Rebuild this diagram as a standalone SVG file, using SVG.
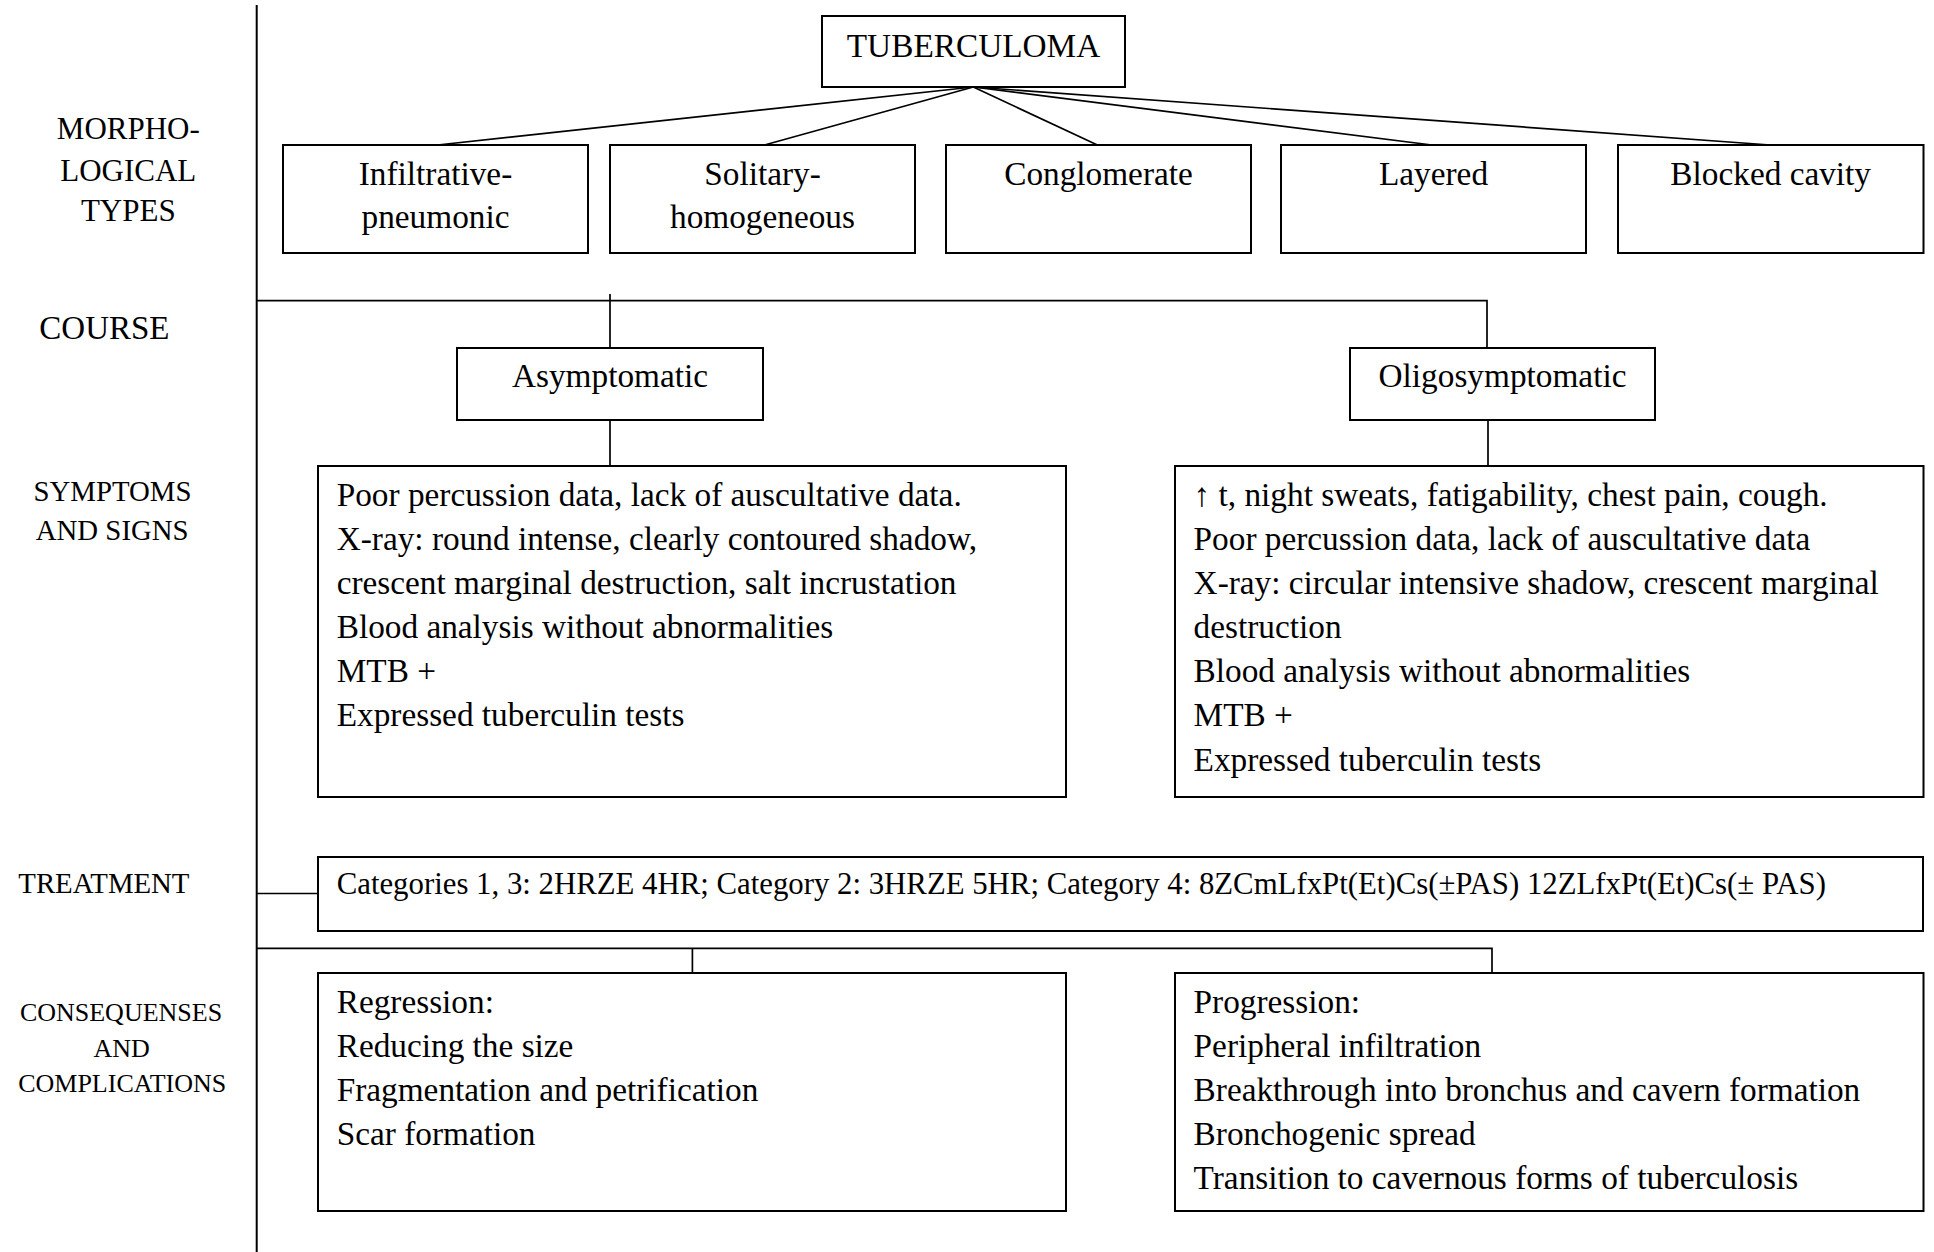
<svg xmlns="http://www.w3.org/2000/svg" width="1934" height="1252" viewBox="0 0 1934 1252">
  <style>
    .box { fill: #ffffff; stroke: #000000; stroke-width: 2; }
    .wire { fill: none; stroke: #000000; stroke-width: 1.7; }
    .axis { fill: none; stroke: #000000; stroke-width: 2; }
    text { font-family: "Liberation Serif", "Times New Roman", serif; fill: #000000; }
    .t { font-size: 33.3px; }
    .c { text-anchor: middle; }
    .rx { font-size: 30.8px; }
    .lab31 { font-size: 31px; text-anchor: middle; }
    .lab33 { font-size: 33px; }
    .lab29 { font-size: 28.8px; }
    .lab26 { font-size: 26px; text-anchor: middle; }
  </style>

  <rect x="0" y="0" width="1934" height="1252" fill="#ffffff"/>

  <!-- row labels on the left -->
  <g id="row-labels">
    <text class="lab31" x="128.3" y="139.3">MORPHO-</text>
    <text class="lab31" x="128.3" y="180.7">LOGICAL</text>
    <text class="lab31" x="128.3" y="220.7">TYPES</text>
    <text class="lab33" x="39.3" y="339.3">COURSE</text>
    <text class="lab29" x="112.5" y="500.7" text-anchor="middle">SYMPTOMS</text>
    <text class="lab29" x="112.2" y="540" text-anchor="middle">AND SIGNS</text>
    <text class="lab29" x="18.3" y="893.3">TREATMENT</text>
    <text class="lab26" x="121" y="1020.7">CONSEQUENSES</text>
    <text class="lab26" x="121.7" y="1056.7">AND</text>
    <text class="lab26" x="122.2" y="1091.7">COMPLICATIONS</text>
  </g>

  <!-- connectors -->
  <g id="connectors">
    <line class="axis" x1="256.7" y1="5" x2="256.7" y2="1252"/>
    <!-- fan from the root -->
    <line class="wire" x1="973.3" y1="87" x2="437.5" y2="145"/>
    <line class="wire" x1="973.3" y1="87" x2="764.5" y2="145"/>
    <line class="wire" x1="973.3" y1="87" x2="1097.4" y2="145"/>
    <line class="wire" x1="973.3" y1="87" x2="1431.9" y2="145"/>
    <line class="wire" x1="973.3" y1="87" x2="1770.3" y2="145"/>
    <!-- course bracket -->
    <polyline class="wire" points="256.7,300.7 1487,300.7 1487,348"/>
    <line class="wire" x1="610" y1="294" x2="610" y2="348"/>
    <line class="wire" x1="610" y1="420" x2="610" y2="466"/>
    <line class="wire" x1="1488" y1="420" x2="1488" y2="466"/>
    <!-- treatment link -->
    <line class="wire" x1="256.7" y1="893.5" x2="318" y2="893.5"/>
    <!-- outcome bracket -->
    <polyline class="wire" points="256.7,948.3 1492,948.3 1492,973"/>
    <line class="wire" x1="692.4" y1="948.3" x2="692.4" y2="973"/>
  </g>

  <g id="tuberculoma">
    <rect class="box" x="822" y="16" width="303" height="71"/>
    <text class="t c" x="973.5" y="57">TUBERCULOMA</text>
  </g>

  <g id="infiltrative-pneumonic">
    <rect class="box" x="283" y="145" width="305" height="108"/>
    <text class="t c" x="435.5" y="185">Infiltrative-</text>
    <text class="t c" x="435.5" y="228">pneumonic</text>
  </g>

  <g id="solitary-homogeneous">
    <rect class="box" x="610" y="145" width="305" height="108"/>
    <text class="t c" x="762.5" y="185">Solitary-</text>
    <text class="t c" x="762.5" y="228">homogeneous</text>
  </g>

  <g id="conglomerate">
    <rect class="box" x="946" y="145" width="305" height="108"/>
    <text class="t c" x="1098.5" y="185">Conglomerate</text>
  </g>

  <g id="layered">
    <rect class="box" x="1281" y="145" width="305" height="108"/>
    <text class="t c" x="1433.5" y="185">Layered</text>
  </g>

  <g id="blocked-cavity">
    <rect class="box" x="1618" y="145" width="305.5" height="108"/>
    <text class="t c" x="1770.7" y="185">Blocked cavity</text>
  </g>

  <g id="asymptomatic">
    <rect class="box" x="457" y="348" width="306" height="72"/>
    <text class="t c" x="610" y="386.7">Asymptomatic</text>
  </g>

  <g id="oligosymptomatic">
    <rect class="box" x="1350" y="348" width="305" height="72"/>
    <text class="t c" x="1502.5" y="386.7">Oligosymptomatic</text>
  </g>

  <g id="signs-asymptomatic">
    <rect class="box" x="318" y="466" width="748" height="331"/>
    <text class="t" x="336.7" y="506">Poor percussion data, lack of auscultative data.</text>
    <text class="t" x="336.7" y="550">X-ray: round intense, clearly contoured shadow,</text>
    <text class="t" x="336.7" y="594">crescent marginal destruction, salt incrustation</text>
    <text class="t" x="336.7" y="638">Blood analysis without abnormalities</text>
    <text class="t" x="336.7" y="682">MTB +</text>
    <text class="t" x="336.7" y="726">Expressed tuberculin tests</text>
  </g>

  <g id="signs-oligosymptomatic">
    <rect class="box" x="1175" y="466" width="748.5" height="331"/>
    <text class="t" x="1193.6" y="506">↑ t, night sweats, fatigability, chest pain, cough.</text>
    <text class="t" x="1193.6" y="550">Poor percussion data, lack of auscultative data</text>
    <text class="t" x="1193.6" y="594">X-ray: circular intensive shadow, crescent marginal</text>
    <text class="t" x="1193.6" y="638">destruction</text>
    <text class="t" x="1193.6" y="682">Blood analysis without abnormalities</text>
    <text class="t" x="1193.6" y="726">MTB +</text>
    <text class="t" x="1193.6" y="770.5">Expressed tuberculin tests</text>
  </g>

  <g id="treatment">
    <rect class="box" x="318" y="857" width="1605" height="74"/>
    <text class="rx" x="336.7" y="894">Categories 1, 3: 2HRZE 4HR; Category 2: 3HRZE 5HR; Category 4: 8ZCmLfxPt(Et)Cs(±PAS) 12ZLfxPt(Et)Cs(± PAS)</text>
  </g>

  <g id="regression">
    <rect class="box" x="318" y="973" width="748" height="238"/>
    <text class="t" x="336.7" y="1013">Regression:</text>
    <text class="t" x="336.7" y="1057">Reducing the size</text>
    <text class="t" x="336.7" y="1101">Fragmentation and petrification</text>
    <text class="t" x="336.7" y="1145">Scar formation</text>
  </g>

  <g id="progression">
    <rect class="box" x="1175" y="973" width="748.5" height="238"/>
    <text class="t" x="1193.6" y="1013">Progression:</text>
    <text class="t" x="1193.6" y="1057">Peripheral infiltration</text>
    <text class="t" x="1193.6" y="1101">Breakthrough into bronchus and cavern formation</text>
    <text class="t" x="1193.6" y="1145">Bronchogenic spread</text>
    <text class="t" x="1193.6" y="1189">Transition to cavernous forms of tuberculosis</text>
  </g>
</svg>
